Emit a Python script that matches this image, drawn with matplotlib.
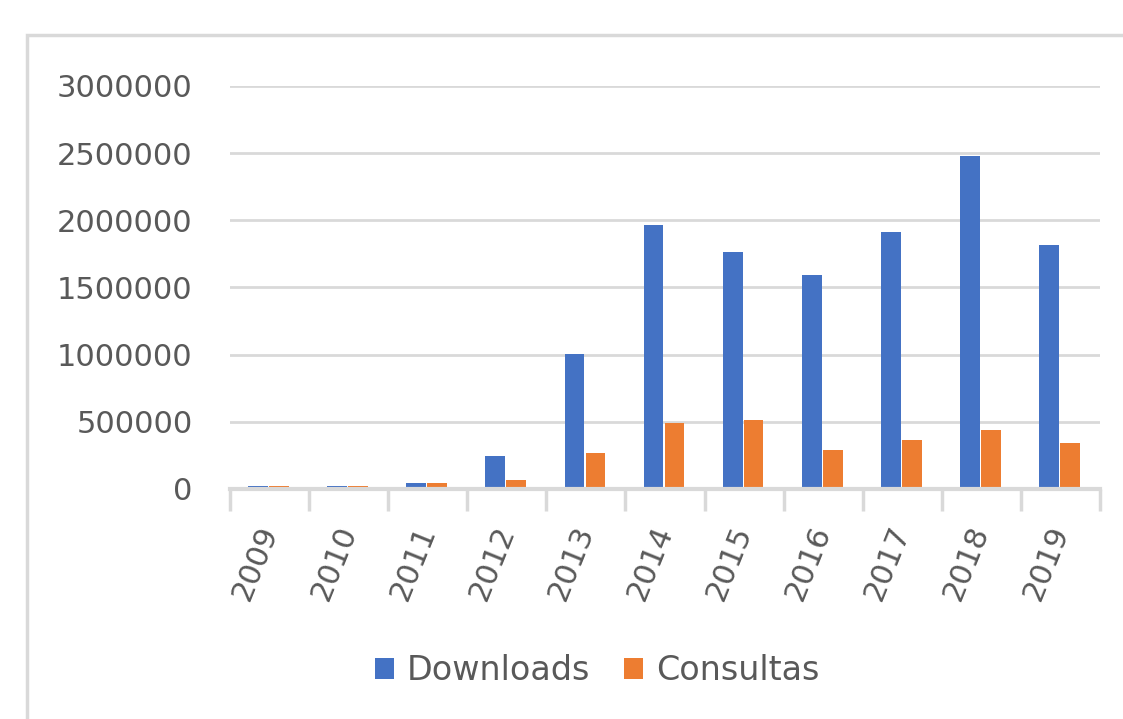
import numpy as np
import matplotlib.pyplot as plt
from matplotlib.patches import Rectangle

# data
years = ['2009', '2010', '2011', '2012', '2013', '2014',
         '2015', '2016', '2017', '2018', '2019']
downloads = [22000, 22000, 45000, 245000, 1005000, 1964000,
             1763000, 1592000, 1912000, 2478000, 1815000]
consultas = [22000, 22000, 45000, 67000, 268000, 491000,
             513000, 290000, 365000, 439000, 342000]

BLUE = '#4472C4'
ORANGE = '#ED7D31'
GRID = '#D9D9D9'
TEXT = '#595959'

plt.rcParams['font.family'] = ['DejaVu Sans']

fig = plt.figure(figsize=(11.23, 7.19), dpi=100)

# outer chart border (cropped on right and bottom)
fig.patches.append(Rectangle((27 / 1123, -0.05), 1.2, 1 - 35 / 719 + 0.05,
                             transform=fig.transFigure, fill=False,
                             edgecolor=GRID, linewidth=2.5, zorder=0))

ax = fig.add_axes([230 / 1123, 1 - 489 / 719, 870 / 1123, (489 - 86) / 719])

x = np.arange(len(years))
w = 0.25
ax.bar(x - 0.145, downloads, width=w, color=BLUE, label='Downloads', zorder=3)
ax.bar(x + 0.12, consultas, width=w, color=ORANGE, label='Consultas', zorder=3)

ax.set_xlim(-0.5, len(years) - 0.5)
ax.set_ylim(0, 3000000)
ax.set_yticks(np.arange(0, 3000001, 500000))
ax.set_yticklabels([str(v) for v in range(0, 3000001, 500000)])
ax.yaxis.grid(True, color=GRID, linewidth=2)
ax.set_axisbelow(True)

ax.set_xticks(x)
ax.set_xticklabels(years, rotation=68, ha='right', va='center',
                   rotation_mode='anchor')
ax.set_xticks(np.arange(-0.5, len(years), 1), minor=True)
ax.tick_params(axis='x', which='major', length=0, pad=27, labelsize=22,
               labelcolor=TEXT)
ax.tick_params(axis='x', which='minor', length=16, width=2.5, color=GRID)
ax.tick_params(axis='y', length=0, pad=27, labelsize=22, labelcolor=TEXT)

for side in ['top', 'right', 'left']:
    ax.spines[side].set_visible(False)
ax.spines['bottom'].set_color(GRID)
ax.spines['bottom'].set_linewidth(3)
ax.spines['bottom'].set_zorder(4)

leg = fig.legend(loc='center', bbox_to_anchor=(597 / 1123, 1 - 671 / 719),
                 ncol=2, frameon=False, fontsize=24, handlelength=0.57,
                 handleheight=0.57, handletextpad=0.4, columnspacing=1.0)
for t in leg.get_texts():
    t.set_color(TEXT)

fig.savefig('out.png', dpi=100)
